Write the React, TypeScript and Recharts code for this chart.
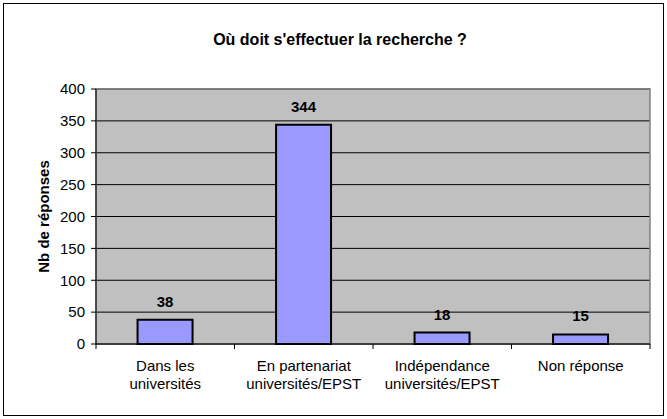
import React from 'react';
import { BarChart, Bar, XAxis, YAxis, CartesianGrid, LabelList, ReferenceArea } from 'recharts';

const categories = ['Dans les\nuniversités', 'En partenariat\nuniversités/EPST', 'Indépendance\nuniversités/EPST', 'Non réponse'];
const values = [38, 344, 18, 15];
const yTicks = [0, 50, 100, 150, 200, 250, 300, 350, 400];
const title = "Où doit s'effectuer la recherche ?";
const yLabel = 'Nb de réponses';

const data = categories.map((c, i) => ({ name: c, value: values[i] }));

const FONT = '"Liberation Sans", Arial, sans-serif';
const BAND = 138.5;

const CatTick = (props: any) => {
  const { x, y, payload, index } = props;
  const lines = String(payload.value).split('\n');
  return (
    <g>
      <line x1={x - BAND / 2} x2={x - BAND / 2} y1={y - 8} y2={y - 3} stroke="#000" />
      {index === categories.length - 1 && (
        <line x1={x + BAND / 2} x2={x + BAND / 2} y1={y - 8} y2={y - 3} stroke="#000" />
      )}
      <text x={x} y={y + 19} textAnchor="middle" fontSize={15} fontFamily={FONT} fill="#000">
        {lines.map((l, i) => (
          <tspan key={i} x={x} dy={i === 0 ? 0 : 18}>{l}</tspan>
        ))}
      </text>
    </g>
  );
};

export default function App() {
  return (
    <div style={{ position: 'absolute', left: 0, top: 0, width: 667, height: 419, background: '#fff', fontFamily: FONT }}>
      <div style={{ position: 'absolute', left: 3, top: 3, width: 659, height: 411, border: '1px solid #000' }} />
      <div style={{ position: 'absolute', left: 10, width: 660, top: 31, textAlign: 'center', fontSize: 16, fontWeight: 'bold', color: '#000' }}>
        {title}
      </div>
      <div style={{ position: 'absolute', left: 0, top: 0 }}>
        <BarChart width={667} height={419} data={data} margin={{ top: 89, right: 17, bottom: 0, left: 46 }} barCategoryGap="30%">
          <CartesianGrid vertical={false} fill="#C0C0C0" stroke="#000" fillOpacity={1} />
          <ReferenceArea y1={0} y2={400} fill="none" stroke="#808080" strokeWidth={1.5} ifOverflow="visible" />
          <XAxis dataKey="name" interval={0} tickLine={false} axisLine={{ stroke: '#000' }} tick={<CatTick />} height={75} />
          <YAxis domain={[0, 400]} ticks={yTicks} width={50} tickSize={5} tickMargin={6} axisLine={{ stroke: '#000' }} tickLine={{ stroke: '#000' }}
            tick={{ fill: '#000', fontSize: 15, fontFamily: FONT }} interval={0}
            label={{ value: yLabel, angle: -90, position: 'insideLeft', offset: -2, style: { fontWeight: 'bold', fontSize: 15, fontFamily: FONT, fill: '#000', textAnchor: 'middle' } }} />
          <Bar dataKey="value" fill="#9999FF" stroke="#000" strokeWidth={2} isAnimationActive={false}>
            <LabelList dataKey="value" position="top" offset={13} style={{ fontWeight: 'bold', fontSize: 15, fontFamily: FONT, fill: '#000' }} />
          </Bar>
        </BarChart>
      </div>
    </div>
  );
}
